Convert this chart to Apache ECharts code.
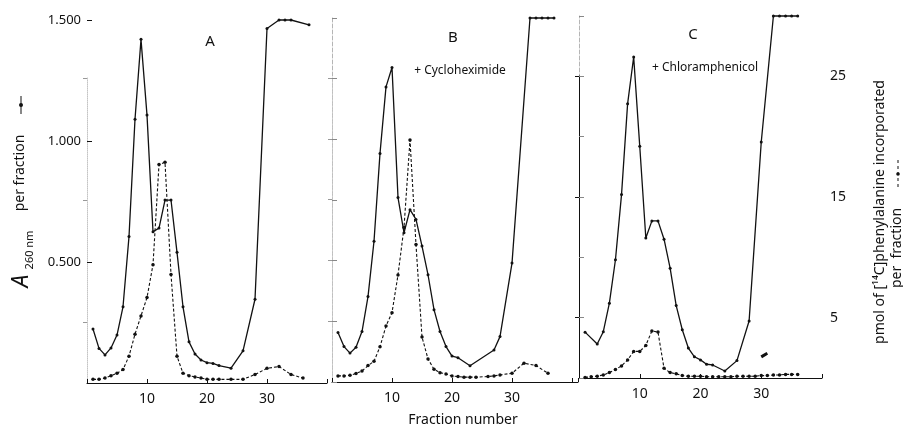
<!DOCTYPE html>
<html>
<head>
<meta charset="utf-8">
<script src="https://cdn.jsdelivr.net/npm/echarts@6/dist/echarts.min.js"></script>
<style>
  html, body { margin: 0; background: #fff; }
  #chart { width: 903px; height: 427px; }
</style>
</head>
<body>
<div id="chart"></div>
<script>
// A260 per fraction, [fraction, absorbance]
var absA = [[1,0.223],[2,0.143],[3,0.116],[4,0.145],[5,0.198],[6,0.315],[7,0.605],[8,1.09],[9,1.42],[10,1.107],[11,0.625],[12,0.64],[13,0.756],[14,0.756],[15,0.54],[16,0.315],[17,0.17],[18,0.12],[19,0.095],[20,0.084],[21,0.081],[22,0.072],[24,0.061],[26,0.133],[28,0.346],[30,1.465],[32,1.5],[33,1.5],[34,1.5],[37,1.48]];
var absB = [[1,0.204],[2,0.146],[3,0.119],[4,0.143],[5,0.208],[6,0.352],[7,0.58],[8,0.942],[9,1.216],[10,1.296],[11,0.76],[12,0.615],[13,0.71],[14,0.67],[15,0.56],[16,0.442],[17,0.298],[18,0.208],[19,0.146],[20,0.107],[21,0.1],[23,0.067],[27,0.132],[28,0.187],[30,0.49],[33,1.5],[34,1.5],[35,1.5],[36,1.5],[37,1.5]];
var absC = [[1,0.19],[3,0.141],[4,0.192],[5,0.31],[6,0.49],[7,0.76],[8,1.136],[9,1.33],[10,0.96],[11,0.58],[12,0.651],[13,0.651],[14,0.575],[15,0.455],[16,0.3],[17,0.2],[18,0.124],[19,0.088],[20,0.075],[21,0.057],[22,0.054],[24,0.029],[26,0.072],[28,0.236],[30,0.978],[32,1.5],[33,1.5],[34,1.5],[35,1.5],[36,1.5]];

// pmol [14C]phenylalanine incorporated per fraction
var pheA = [[1,0.3],[2,0.3],[3,0.4],[4,0.6],[5,0.8],[6,1.1],[7,2.2],[8,4.0],[9,5.5],[10,7.0],[11,9.7],[12,17.9],[13,18.1],[14,8.9],[15,2.2],[16,0.8],[17,0.6],[18,0.5],[19,0.4],[20,0.3],[21,0.3],[22,0.3],[24,0.3],[26,0.3],[28,0.7],[30,1.2],[32,1.35],[34,0.7],[36,0.4]];
var pheB = [[1,0.5],[2,0.5],[3,0.55],[4,0.7],[5,0.9],[6,1.35],[7,1.7],[8,2.9],[9,4.6],[10,5.7],[11,8.8],[12,12.7],[13,19.9],[14,11.3],[15,3.7],[16,1.9],[17,1.05],[18,0.77],[19,0.66],[20,0.5],[21,0.45],[22,0.4],[23,0.4],[24,0.4],[26,0.45],[27,0.5],[28,0.58],[30,0.72],[32,1.55],[34,1.35],[36,0.72]];
var pheC = [[1,0.05],[2,0.1],[3,0.15],[4,0.25],[5,0.45],[6,0.7],[7,1.0],[8,1.5],[9,2.2],[10,2.2],[11,2.7],[12,3.9],[13,3.8],[14,0.8],[15,0.45],[16,0.35],[17,0.2],[18,0.15],[19,0.15],[20,0.15],[21,0.1],[22,0.1],[23,0.1],[24,0.1],[25,0.1],[26,0.15],[27,0.15],[28,0.15],[29,0.15],[30,0.2],[31,0.2],[32,0.25],[33,0.25],[34,0.3],[35,0.3],[36,0.3]];
// short stray stroke in panel C
var blipC = [[30,1.75],[31,2.05]];

var xTicks = [10, 20, 30];
var absTicks = [0.5, 1.0, 1.5];
var pheTicks = [5, 15, 25];
var pheTicksB = [5, 10, 15, 20, 25];

var FONT = 'Noto Sans';
var INK = '#111';

// panel boxes (pixels)
var panels = [
  { name: 'A', note: '', abs: absA, phe: pheA, left: 87, width: 240, top: 20, bottom: 383, pheTop: 78, xmax: 40, nameX: 210, nameY: 42, noteX: 0, noteY: 0 },
  { name: 'B', note: '+ Cycloheximide', abs: absB, phe: pheB, left: 332, width: 246, top: 18, bottom: 382, pheTop: 78, xmax: 41, nameX: 453, nameY: 38, noteX: 460, noteY: 71 },
  { name: 'C', note: '+ Chloramphenicol', abs: absC, phe: pheC, left: 579, width: 243, top: 16, bottom: 378, pheTop: 76, xmax: 40, nameX: 693, nameY: 35, noteX: 705, noteY: 68 }
];

var grid = [], xAxis = [], yAxis = [], series = [], graphic = [];

panels.forEach(function (p, i) {
  var g = i * 2;
  grid.push({ left: p.left, top: p.top, width: p.width, height: p.bottom - p.top });
  grid.push({ left: p.left, top: p.pheTop, width: p.width, height: p.bottom - p.pheTop });

  xAxis.push({
    gridIndex: g, type: 'value', min: 0, max: p.xmax, interval: 10,
    axisLine: { lineStyle: { color: INK, width: 1 } },
    axisTick: { inside: true, length: 4, lineStyle: { color: INK } },
    axisLabel: { customValues: xTicks, color: INK, fontFamily: FONT, fontSize: 14, margin: 9 },
    splitLine: { show: false }
  });
  xAxis.push({ gridIndex: g + 1, type: 'value', min: 0, max: p.xmax, show: false });

  yAxis.push({
    gridIndex: g, type: 'value', min: 0, max: 1.5, interval: i === 0 ? 0.5 : 0.25,
    axisLine: { show: i !== 0, lineStyle: { color: '#b5b5b5', type: 'dashed', width: 1 } },
    axisTick: { show: true, inside: true, length: 5, lineStyle: { color: i === 0 ? INK : '#888' } },
    axisLabel: {
      show: i === 0, customValues: absTicks, color: INK, fontFamily: FONT, fontSize: 13, margin: 6,
      formatter: function (v) { return v.toFixed(3); }
    },
    splitLine: { show: false }
  });
  yAxis.push({
    gridIndex: g + 1, type: 'value', min: 0, max: 25, position: 'right',
    axisLine: { show: true, lineStyle: i === 2 ? { color: INK, width: 1 } : { color: '#c4c4c4', type: 'dotted', width: 1 } },
    axisTick: { inside: true, length: 4, customValues: i === 1 ? pheTicksB : pheTicks, lineStyle: { color: i === 2 ? INK : '#999' } },
    axisLabel: { show: i === 2, customValues: pheTicks, color: INK, fontFamily: FONT, fontSize: 14, margin: 8 },
    splitLine: { show: false }
  });

  series.push({
    type: 'line', xAxisIndex: g, yAxisIndex: g, data: p.abs, clip: false,
    symbol: 'circle', symbolSize: 3, showSymbol: true,
    lineStyle: { color: INK, width: 1.3 }, itemStyle: { color: INK }
  });
  series.push({
    type: 'line', xAxisIndex: g + 1, yAxisIndex: g + 1, data: p.phe, clip: false,
    symbol: 'circle', symbolSize: 3.5, showSymbol: true,
    lineStyle: { color: INK, width: 1.1, type: [3, 2] }, itemStyle: { color: INK }
  });

  graphic.push({ type: 'text', x: p.nameX, y: p.nameY,
    style: { text: p.name, font: '15px "' + FONT + '"', fill: INK, align: 'center', verticalAlign: 'middle' } });
  if (p.note) {
    graphic.push({ type: 'text', x: p.noteX, y: p.noteY,
      style: { text: p.note, font: '12px "' + FONT + '"', fill: INK, align: 'center', verticalAlign: 'middle' } });
  }
});

series.push({
  type: 'line', xAxisIndex: 5, yAxisIndex: 5, data: blipC, showSymbol: false,
  lineStyle: { color: INK, width: 3 }
});

// axis titles
var rot = Math.PI / 2;
graphic.push(
  { type: 'text', x: 21, y: 281, rotation: rot,
    style: { text: 'A', font: 'italic 23px "' + FONT + '"', fill: INK, align: 'center', verticalAlign: 'middle' } },
  { type: 'text', x: 30, y: 250, rotation: rot,
    style: { text: '260 nm', font: '11px "' + FONT + '"', fill: INK, align: 'center', verticalAlign: 'middle' } },
  { type: 'text', x: 20, y: 173, rotation: rot,
    style: { text: 'per fraction', font: '14px "' + FONT + '"', fill: INK, align: 'center', verticalAlign: 'middle' } },
  { type: 'line', shape: { x1: 21, y1: 96, x2: 21, y2: 114 }, style: { stroke: INK, lineWidth: 1 } },
  { type: 'circle', shape: { cx: 21, cy: 105, r: 2 }, style: { fill: INK } },

  { type: 'text', x: 880, y: 212, rotation: rot,
    style: { text: 'pmol of [\u00b9\u2074C]phenylalanine incorporated', font: '14px "' + FONT + '"', fill: INK, align: 'center', verticalAlign: 'middle' } },
  { type: 'text', x: 897, y: 248, rotation: rot,
    style: { text: 'per  fraction', font: '14px "' + FONT + '"', fill: INK, align: 'center', verticalAlign: 'middle' } },
  { type: 'line', shape: { x1: 898, y1: 160, x2: 898, y2: 187 }, style: { stroke: INK, lineWidth: 1, lineDash: [3, 3] } },
  { type: 'circle', shape: { cx: 898, cy: 174, r: 1.8 }, style: { fill: INK } },

  { type: 'text', x: 463, y: 420,
    style: { text: 'Fraction number', font: '14px "' + FONT + '"', fill: INK, align: 'center', verticalAlign: 'middle' } }
);

var chart = echarts.init(document.getElementById('chart'), null, { renderer: 'canvas' });
chart.setOption({
  backgroundColor: '#fff',
  animation: false,
  grid: grid,
  xAxis: xAxis,
  yAxis: yAxis,
  series: series,
  graphic: graphic
});
</script>
</body>
</html>
